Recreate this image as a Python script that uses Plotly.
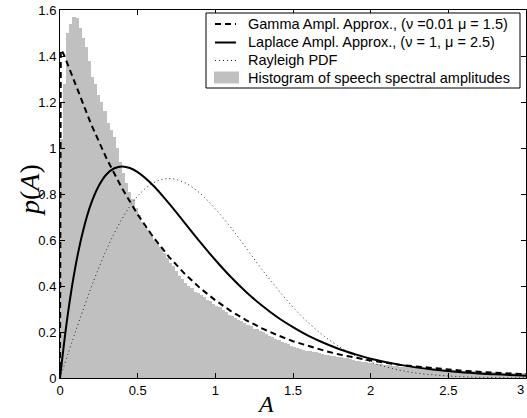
import plotly.graph_objects as go

# ---------------- data ----------------
hist_bin_width = 0.02
hist_left_edges = [round(i * 0.02, 2) for i in range(150)]
hist_values = [
    1.04, 1.28, 1.50, 1.54, 1.57, 1.565, 1.52, 1.48, 1.44, 1.38,
    1.31, 1.28, 1.23, 1.20, 1.16, 1.11, 1.08, 1.05, 1.00, 0.94,
    0.89, 0.85, 0.81, 0.78, 0.74, 0.71, 0.68, 0.655, 0.645, 0.62,
    0.60, 0.585, 0.57, 0.545, 0.52, 0.50, 0.485, 0.465, 0.445, 0.43,
    0.415, 0.40, 0.39, 0.375, 0.368, 0.36, 0.352, 0.34, 0.335, 0.322,
    0.315, 0.307, 0.294, 0.287, 0.276, 0.268, 0.262, 0.253, 0.246, 0.238,
    0.231, 0.226, 0.214, 0.211, 0.204, 0.198, 0.191, 0.184, 0.179, 0.170,
    0.166, 0.157, 0.153, 0.146, 0.141, 0.135, 0.131, 0.125, 0.123, 0.117,
    0.116, 0.112, 0.111, 0.107, 0.105, 0.101, 0.100, 0.097, 0.095, 0.091,
    0.090, 0.087, 0.085, 0.081, 0.078, 0.075, 0.073, 0.069, 0.068, 0.066,
    0.065, 0.062, 0.062, 0.059, 0.058, 0.057, 0.055, 0.053, 0.052, 0.050,
    0.050, 0.048, 0.047, 0.046, 0.045, 0.043, 0.043, 0.041, 0.041, 0.039,
    0.039, 0.038, 0.037, 0.035, 0.035, 0.034, 0.034, 0.032, 0.032, 0.031,
    0.031, 0.030, 0.029, 0.029, 0.028, 0.027, 0.027, 0.026, 0.025, 0.025,
    0.024, 0.024, 0.023, 0.022, 0.022, 0.021, 0.021, 0.020, 0.020, 0.020,
]

gamma_A = [0, 0.001, 0.005, 0.01, 0.025, 0.05, 0.1, 0.15, 0.2, 0.3, 0.4, 0.5,
           0.6, 0.7, 0.8, 0.9, 1.0, 1.1, 1.2, 1.3, 1.4, 1.5, 1.6, 1.7, 1.8,
           1.9, 2.0, 2.2, 2.4, 2.6, 2.8, 3.0]
gamma_p = [0, 1.411, 1.425, 1.425, 1.406, 1.363, 1.274, 1.187, 1.104, 0.954,
           0.824, 0.711, 0.613, 0.528, 0.455, 0.392, 0.338, 0.291, 0.251,
           0.216, 0.186, 0.160, 0.138, 0.119, 0.102, 0.088, 0.076, 0.056,
           0.042, 0.031, 0.023, 0.017]

laplace_A = [0, 0.05, 0.1, 0.15, 0.2, 0.25, 0.3, 0.35, 0.4, 0.45, 0.5, 0.6,
             0.7, 0.8, 0.9, 1.0, 1.1, 1.2, 1.3, 1.4, 1.5, 1.6, 1.7, 1.8, 1.9,
             2.0, 2.2, 2.4, 2.6, 2.8, 3.0]
laplace_p = [0, 0.276, 0.487, 0.644, 0.758, 0.836, 0.886, 0.912, 0.920,
             0.913, 0.895, 0.837, 0.760, 0.677, 0.593, 0.513, 0.439, 0.373,
             0.315, 0.264, 0.221, 0.183, 0.152, 0.125, 0.103, 0.084, 0.056,
             0.037, 0.024, 0.016, 0.010]

rayleigh_A = [0, 0.1, 0.2, 0.3, 0.4, 0.5, 0.6, 0.7, 0.8, 0.9, 1.0, 1.1, 1.2,
              1.3, 1.4, 1.5, 1.6, 1.7, 1.8, 1.9, 2.0, 2.1, 2.2, 2.3, 2.4, 2.5,
              2.6, 2.7, 2.8, 2.9, 3.0]
rayleigh_p = [0, 0.202, 0.392, 0.559, 0.693, 0.791, 0.848, 0.867, 0.850,
              0.804, 0.735, 0.654, 0.564, 0.472, 0.387, 0.308, 0.240, 0.182,
              0.135, 0.097, 0.069, 0.048, 0.032, 0.021, 0.014, 0.009, 0.005,
              0.003, 0.002, 0.001, 0.001]

x_ticks = [0, 0.5, 1, 1.5, 2, 2.5, 3]
x_tick_labels = ["0", "0.5", "1", "1.5", "2", "2.5", "3"]
y_ticks = [0, 0.2, 0.4, 0.6, 0.8, 1.0, 1.2, 1.4, 1.6]
y_tick_labels = ["0", "0.2", "0.4", "0.6", "0.8", "1", "1.2", "1.4", "1.6"]

legend_names = [
    "Gamma Ampl. Approx., (\u03bd =0.01 \u03bc = 1.5)",
    "Laplace Ampl. Approx., (\u03bd = 1, \u03bc = 2.5)",
    "Rayleigh PDF",
    "Histogram of speech spectral amplitudes",
]

# ---------------- styles ----------------
HIST_COLOR = "#c0c0c0"
GAMMA_LINE = dict(color="black", width=2, dash="6px,4px")
LAPLACE_LINE = dict(color="black", width=2)
RAYLEIGH_LINE = dict(color="#222222", width=1, dash="1px,3px")
TICK_FONT = dict(family="Liberation Sans, Arial, sans-serif", size=13, color="black")
LEGEND_FONT = dict(family="Liberation Sans, Arial, sans-serif", size=14.5, color="black")

# plot area in pixels (for placing the hand-built legend box)
PL, PR, PT, PB = 60, 526, 10, 378


def px(xp):
    return (xp - PL) / (PR - PL)


def py(yp):
    return (PB - yp) / (PB - PT)


# ---------------- figure ----------------
hist_centers = [e + hist_bin_width / 2 for e in hist_left_edges]

fig = go.Figure()
fig.add_trace(go.Bar(
    x=hist_centers, y=hist_values, width=hist_bin_width,
    marker=dict(color=HIST_COLOR, line=dict(width=0)),
    name=legend_names[3],
))
fig.add_trace(go.Scatter(
    x=rayleigh_A, y=rayleigh_p, mode="lines", line_shape="spline",
    line=RAYLEIGH_LINE, name=legend_names[2],
))
fig.add_trace(go.Scatter(
    x=laplace_A, y=laplace_p, mode="lines", line_shape="spline",
    line=LAPLACE_LINE, name=legend_names[1],
))
fig.add_trace(go.Scatter(
    x=gamma_A, y=gamma_p, mode="lines",
    line=GAMMA_LINE, name=legend_names[0],
))

# MATLAB-style legend box
box = (206, 13, 520, 88)
row_y = [24, 42.5, 60.5, 77.5]
shapes = [dict(type="rect", xref="paper", yref="paper", layer="above",
               x0=px(box[0]), x1=px(box[2]), y0=py(box[3]), y1=py(box[1]),
               fillcolor="white", line=dict(color="black", width=1))]
for ry, ln in zip(row_y[:3], [GAMMA_LINE, LAPLACE_LINE, RAYLEIGH_LINE]):
    shapes.append(dict(type="line", xref="paper", yref="paper", layer="above",
                       x0=px(215), x1=px(236), y0=py(ry), y1=py(ry), line=ln))
shapes.append(dict(type="rect", xref="paper", yref="paper", layer="above",
                   x0=px(214), x1=px(239), y0=py(row_y[3] + 6), y1=py(row_y[3] - 6),
                   fillcolor=HIST_COLOR, line=dict(width=0)))

annotations = [
    dict(text=name, xref="paper", yref="paper", x=px(246), y=py(ry),
         xanchor="left", yanchor="middle", showarrow=False, font=LEGEND_FONT)
    for name, ry in zip(legend_names, row_y)
]
annotations += [
    dict(text="<i>A</i>", xref="paper", yref="paper", x=px(265),
         y=py(404), showarrow=False, xanchor="center", yanchor="middle",
         font=dict(family="Liberation Serif, Times New Roman, serif", size=24, color="black")),
    dict(text="<i>p</i>(<i>A</i>)", xref="paper", yref="paper", x=px(30),
         y=py(190), showarrow=False, xanchor="center", yanchor="middle",
         textangle=-90,
         font=dict(family="Liberation Serif, Times New Roman, serif", size=28, color="black")),
    dict(text=x_tick_labels[-1], xref="x", yref="paper", x=x_ticks[-1],
         y=py(389), showarrow=False, xanchor="right", yanchor="middle",
         font=TICK_FONT),
]

axis_common = dict(
    showline=True, linecolor="black", linewidth=1, mirror="ticks",
    ticks="inside", ticklen=5, tickcolor="black", tickwidth=1,
    showgrid=False, zeroline=False, tickfont=TICK_FONT,
)

fig.update_layout(
    width=527, height=418,
    margin=dict(l=PL, r=527 - PR, t=PT, b=418 - PB),
    paper_bgcolor="white", plot_bgcolor="white",
    bargap=0,
    showlegend=False,
    xaxis=dict(range=[0, 3], tickvals=x_ticks, ticktext=x_tick_labels, **axis_common),
    yaxis=dict(range=[0, 1.6], tickvals=y_ticks, ticktext=y_tick_labels, **axis_common),
    shapes=shapes,
    annotations=annotations,
)

fig.write_html("out.html")
